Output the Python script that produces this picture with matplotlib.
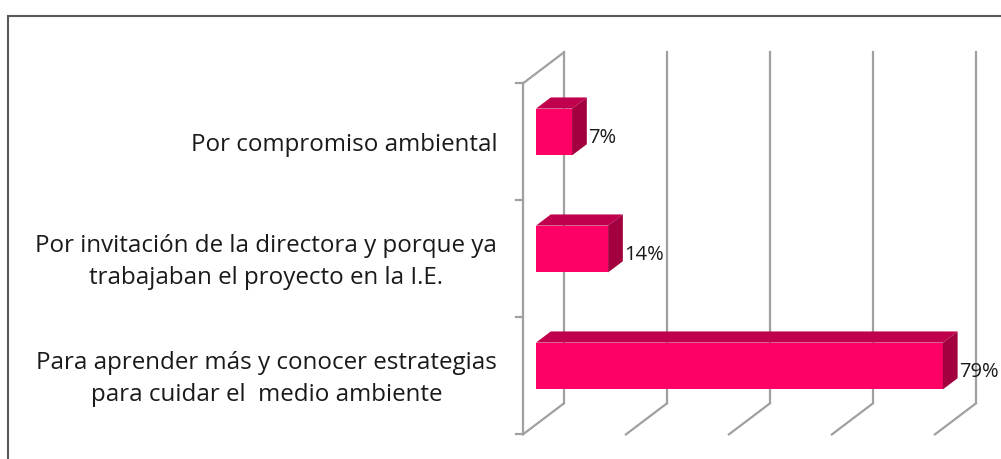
import matplotlib
matplotlib.use("Agg")
import matplotlib.pyplot as plt
from matplotlib.patches import Polygon, Rectangle

# datos (de abajo hacia arriba, como los dibuja Excel)
categorias = [
    "Para aprender más y conocer estrategias\npara cuidar el  medio ambiente",
    "Por invitación de la directora y porque ya\ntrabajaban el proyecto en la I.E.",
    "Por compromiso ambiental",
]
valores = [79, 14, 7]
etiquetas = ["79%", "14%", "7%"]
ticks_x = [0, 20, 40, 60, 80, 100]

plt.rcParams['font.family'] = ['Open Sans', 'DejaVu Sans']

# efecto 3D (en unidades de datos)
DX = 7.96      # desplazamiento en x de la profundidad total
DY = 0.265     # desplazamiento en y de la profundidad total
F0 = 0.32      # profundidad de la cara frontal de la barra
BD = 0.36      # grosor de la barra
ALTO = 0.40

def proj(x, y, d):
    return x + (d - F0) * DX, y + (d - F0) * DY

fig = plt.figure(figsize=(10.01, 4.59), dpi=100)
ax = fig.add_axes([0, 0, 1, 1])
ax.set_xlim(-536 / 5.15, (1001 - 536) / 5.15)
ax.set_ylim((366 - 459) / 117, 366 / 117)
ax.axis('off')

# marco exterior
fig.patches.append(Rectangle((8 / 1001, -0.1), 1.1, 1 - 16 / 459 + 0.1,
                             transform=fig.transFigure, fill=False,
                             edgecolor='#595959', linewidth=1.5))

gris = '#a0a0a0'
ymin, ymax = -0.5, len(categorias) - 0.5
for t in ticks_x:
    a = proj(t, ymin, 1); b = proj(t, ymax, 1)
    ax.plot([a[0], b[0]], [a[1], b[1]], color=gris, lw=1.6, zorder=1)
    a = proj(t, ymin, 0); b = proj(t, ymin, 1)
    ax.plot([a[0], b[0]], [a[1], b[1]], color=gris, lw=1.6, zorder=1)

# pared lateral
a = proj(0, ymin, 0); b = proj(0, ymax, 0)
ax.plot([a[0], b[0]], [a[1], b[1]], color=gris, lw=1.6, zorder=1)
a = proj(0, ymax, 0); b = proj(0, ymax, 1)
ax.plot([a[0], b[0]], [a[1], b[1]], color=gris, lw=1.6, zorder=1)
for i in range(len(categorias) + 1):
    a = proj(0, i - 0.5, 0); b = proj(-1.4, i - 0.5, 0)
    ax.plot([a[0], b[0]], [a[1], b[1]], color=gris, lw=1.6, zorder=1)

# barras
pos = list(range(len(categorias)))
ax.barh(pos, valores, height=ALTO, color='#ff0066', zorder=3)
for y, v in zip(pos, valores):
    top = y + ALTO / 2
    bot = y - ALTO / 2
    ax.add_patch(Polygon([(0, top), (v, top), (v + BD * DX, top + BD * DY),
                          (BD * DX, top + BD * DY)],
                         closed=True, facecolor='#c0004c', edgecolor='none', zorder=3))
    ax.add_patch(Polygon([(v, bot), (v, top), (v + BD * DX, top + BD * DY),
                          (v + BD * DX, bot + BD * DY)],
                         closed=True, facecolor='#a3003f', edgecolor='none', zorder=3))

# etiquetas de datos
for y, v, e in zip(pos, valores, etiquetas):
    ax.text(v + BD * DX + 0.2, y - 0.05, e, ha='left', va='center',
            fontsize=14.5, color='#1a1a1a', zorder=4)

# etiquetas de categoria
for y, c in zip(pos, categorias):
    x0, y0 = proj(0, y, 0)
    ax.text(x0 - 5.0, y0 - 0.025, c, ha='right', va='center', multialignment='center',
            fontsize=17.4, color='#1a1a1a', linespacing=1.47)

fig.savefig('out.png', dpi=100)
